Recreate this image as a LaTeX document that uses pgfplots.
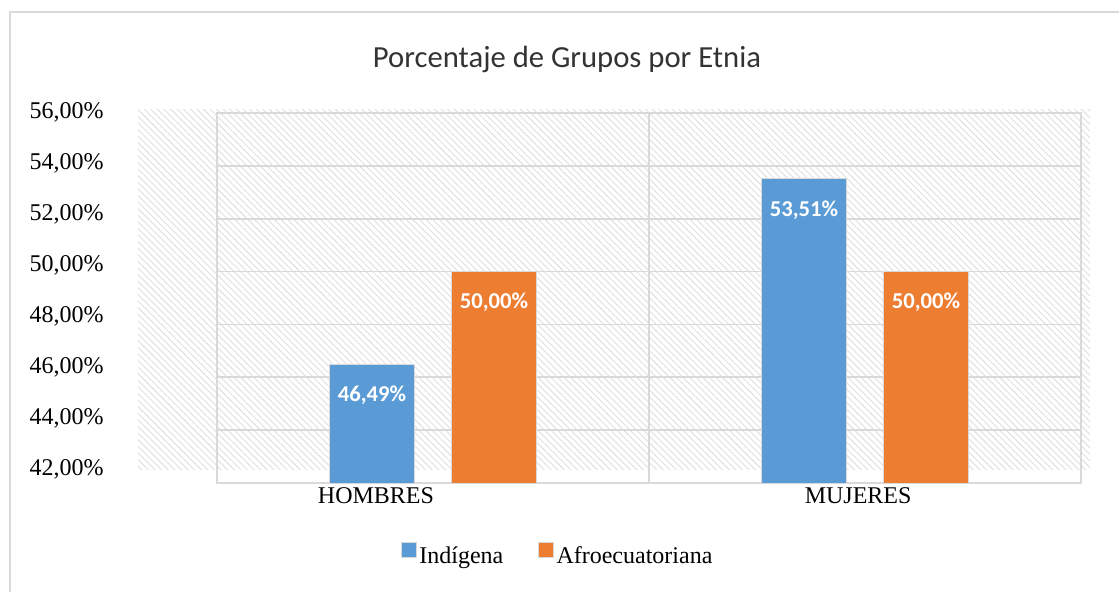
\documentclass[border=0pt]{standalone}
\usepackage{pgfplots}
\pgfplotsset{compat=1.18}
\usetikzlibrary{patterns.meta}
\usepackage{fontspec}
\setmainfont{Liberation Serif}
\newfontfamily\calibri{Carlito}
\definecolor{cblue}{HTML}{5B9BD5}
\definecolor{corange}{HTML}{ED7D31}
\definecolor{gridgray}{HTML}{D9D9D9}
\begin{document}
\begin{tikzpicture}
\path[use as bounding box] (0pt,0pt) rectangle (839.25pt,444pt);
\draw[gridgray,line width=1.5pt] (7.5pt,0pt) -- (7.5pt,435pt) -- (839.25pt,435pt);
\fill[pattern={Lines[angle=-45,distance=3.5pt,line width=0.7pt]},pattern color=gridgray!85] (103.5pt,91.5pt) rectangle (817.5pt,361.5pt);
\node[font=\calibri\fontsize{23}{28}\selectfont,text=black!80,anchor=base] at (425.25pt,393pt) {Porcentaje de Grupos por Etnia};
% y tick labels (placed as in the reference)
\begin{axis}[at={(78pt,91.875pt)}, anchor=south west, scale only axis,
  width=1pt, height=268.1pt, xmin=0, xmax=1, ymin=42, ymax=56,
  xtick=\empty, ytick={42,44,...,56},
  yticklabels={{42,00\%},{44,00\%},{46,00\%},{48,00\%},{50,00\%},{52,00\%},{54,00\%},{56,00\%}},
  axis line style={draw=none}, major tick length=0pt,
  yticklabel style={anchor=east, inner sep=0pt, font=\fontsize{18}{21}\selectfont}]
\end{axis}
\begin{axis}[at={(162.75pt,81.75pt)}, anchor=south west, scale only axis,
  width=648pt, height=277.5pt,
  xmin=-0.5, xmax=1.5, ymin=42, ymax=56,
  ybar=27.75pt, bar width=63.75pt,
  xtick={-0.132,0.984}, xticklabels={HOMBRES,MUJERES},
  minor xtick={-0.5,0.5,1.5}, xminorgrids,
  ytick={42,44,...,56}, yticklabels={}, ymajorgrids,
  grid style={gridgray,line width=1.2pt}, minor grid style={gridgray,line width=1.2pt},
  axis line style={gridgray,line width=1.2pt},
  major tick length=0pt, minor tick length=0pt,
  xticklabel style={font=\fontsize{18}{21}\selectfont},
  nodes near coords={\pgfmathprintnumber[fixed,zerofill,precision=2,use comma,assume math mode=true]{\pgfplotspointmeta}\%},
  every node near coord/.append style={font=\calibri\bfseries\fontsize{17}{20}\selectfont, text=white, anchor=center, yshift=-23.25pt},
  legend style={at={(0.3947,-0.196)}, anchor=center, legend columns=2, draw=none, fill=none,
    font=\fontsize{18}{21}\selectfont, /tikz/every even column/.append style={column sep=24pt}},
  legend image code/.code={\fill[#1] (0pt,-1pt) rectangle (11.25pt,10.25pt);},
]
\addplot[fill=cblue, draw=gridgray, line width=0.6pt] coordinates {(0,46.49) (1,53.51)};
\addplot[fill=corange, draw=gridgray, line width=0.6pt] coordinates {(0,50.00) (1,50.00)};
\legend{Indígena,Afroecuatoriana}
\end{axis}
\end{tikzpicture}
\end{document}
